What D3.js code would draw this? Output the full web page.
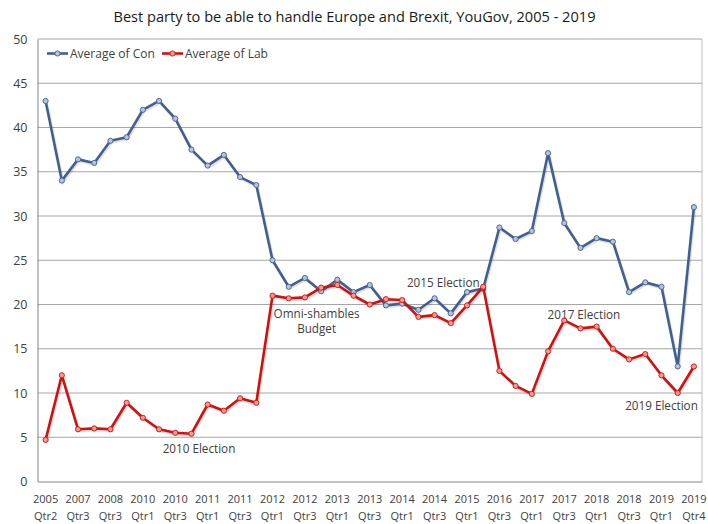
<!DOCTYPE html>
<html>
<head>
<meta charset="utf-8">
<script src="https://cdn.jsdelivr.net/npm/d3@7"></script>
<style>
  body { margin: 0; background: #fff; }
  svg { font-family: "Open Sans", sans-serif; }
</style>
</head>
<body>
<div id="chart"></div>
<script>
const W = 708, H = 524;

// quarters shown on the category axis (only every 2nd is labelled)
const quarters = [
    "2005 Qtr2", "2006 Qtr2", "2007 Qtr3", "2008 Qtr1", "2008 Qtr3", "2009 Qtr2",
    "2010 Qtr1", "2010 Qtr2", "2010 Qtr3", "2010 Qtr4", "2011 Qtr1", "2011 Qtr2",
    "2011 Qtr3", "2011 Qtr4", "2012 Qtr1", "2012 Qtr2", "2012 Qtr3", "2012 Qtr4",
    "2013 Qtr1", "2013 Qtr2", "2013 Qtr3", "2013 Qtr4", "2014 Qtr1", "2014 Qtr2",
    "2014 Qtr3", "2014 Qtr4", "2015 Qtr1", "2015 Qtr2", "2016 Qtr3", "2016 Qtr4",
    "2017 Qtr1", "2017 Qtr2", "2017 Qtr3", "2017 Qtr4", "2018 Qtr1", "2018 Qtr2",
    "2018 Qtr3", "2018 Qtr4", "2019 Qtr1", "2019 Qtr2", "2019 Qtr4"
];
const con = [
    43, 34, 36.4, 36, 38.5, 38.9, 42, 43, 41, 37.5, 35.7, 36.9,
    34.4, 33.5, 25, 22, 23, 21.5, 22.8, 21.4, 22.2, 19.9, 20.1, 19.4,
    20.7, 19, 21.4, 21.8, 28.7, 27.4, 28.3, 37.1, 29.2, 26.4, 27.5, 27.1,
    21.4, 22.5, 22, 13, 31
];
const lab = [
    4.7, 12, 5.9, 6, 5.9, 8.9, 7.2, 5.9, 5.5, 5.4, 8.7, 8,
    9.4, 8.9, 21, 20.7, 20.8, 21.9, 22.2, 21, 20, 20.6, 20.5, 18.6,
    18.8, 17.9, 19.9, 22, 12.5, 10.8, 9.9, 14.7, 18.2, 17.3, 17.5, 15,
    13.8, 14.4, 12, 10, 13
];
const yTicks = [0, 5, 10, 15, 20, 25, 30, 35, 40, 45, 50];
// text labels placed against a quarter and a value
const notes = [
    { q: "2010 Qtr4", v: 3.2, lines: ["2010 Election"], dx: 7.5 },
    { q: "2012 Qtr4", v: 18.5, lines: ["Omni-shambles", "Budget"], dx: -4.5 },
    { q: "2014 Qtr4", v: 22.0, lines: ["2015 Election"], dx: -7.5 },
    { q: "2017 Qtr4", v: 18.4, lines: ["2017 Election"], dx: 3.5 },
    { q: "2019 Qtr1", v: 8.1, lines: ["2019 Election"], dx: 0 }
];

const plotLeft = 37.5, plotRight = 702, plotTop = 39, plotBottom = 481.5;

const svg = d3.select("#chart").append("svg")
    .attr("width", W)
    .attr("height", H);

const x = d3.scalePoint()
    .domain(quarters)
    .range([plotLeft, plotRight])
    .padding(0.5);
const y = d3.scaleLinear()
    .domain([0, 50])
    .range([plotBottom, plotTop]);

// gridlines
svg.append("g")
    .selectAll("line")
    .data(yTicks.filter(d => d > 0))
    .enter()
    .append("line")
    .attr("x1", plotLeft).attr("x2", plotRight)
    .attr("y1", d => y(d)).attr("y2", d => y(d))
    .attr("stroke", "#a6a6a6")
    .attr("stroke-width", 1);

// right border of plot area
svg.append("line")
    .attr("x1", plotRight).attr("x2", plotRight)
    .attr("y1", plotTop).attr("y2", plotBottom)
    .attr("stroke", "#bfbfbf");

// y axis
const yAxis = d3.axisLeft(y).tickValues(yTicks).tickSize(0).tickPadding(10);
const gy = svg.append("g")
    .attr("transform", `translate(${plotLeft},0)`)
    .call(yAxis);
gy.select(".domain").attr("stroke", "#868686");
gy.selectAll("text")
    .attr("font-size", 12.5)
    .attr("font-family", "Open Sans, sans-serif")
    .attr("fill", "#404040");

// x axis
const xAxis = d3.axisBottom(x).tickSize(0).tickFormat("");
const gx = svg.append("g")
    .attr("transform", `translate(0,${plotBottom})`)
    .call(xAxis);
gx.select(".domain").attr("stroke", "#868686");

const labelled = quarters.filter((q, i) => i % 2 === 0);
const xl = svg.append("g")
    .selectAll("text")
    .data(labelled)
    .enter()
    .append("text")
    .attr("text-anchor", "middle")
    .attr("font-size", 11)
    .attr("fill", "#404040")
    .attr("x", d => x(d));
xl.append("tspan")
    .attr("x", d => x(d))
    .attr("y", 503)
    .text(d => d.split(" ")[0]);
xl.append("tspan")
    .attr("x", d => x(d))
    .attr("y", 520)
    .text(d => d.split(" ")[1]);

// series
const series = [
    { name: "Average of Con", values: con, stroke: "#41608f", fill: "#b4c3e0" },
    { name: "Average of Lab", values: lab, stroke: "#d40f0f", fill: "#f39b8d" }
];

const line = d3.line()
    .x((d, i) => x(quarters[i]))
    .y(d => y(d));

series.forEach(s => {
    svg.append("path")
        .datum(s.values)
        .attr("fill", "none")
        .attr("stroke", "rgba(0,0,0,0.12)")
        .attr("stroke-width", 3)
        .attr("transform", "translate(1,1.5)")
        .attr("d", line);
    svg.append("path")
        .datum(s.values)
        .attr("fill", "none")
        .attr("stroke", s.stroke)
        .attr("stroke-width", 2.6)
        .attr("stroke-linejoin", "round")
        .attr("d", line);
    svg.append("g")
        .selectAll("circle")
        .data(s.values)
        .enter()
        .append("circle")
        .attr("cx", (d, i) => x(quarters[i]))
        .attr("cy", d => y(d))
        .attr("r", 2.6)
        .attr("fill", s.fill)
        .attr("stroke", s.stroke)
        .attr("stroke-width", 0.9);
});

// annotations
notes.forEach(n => {
    const t = svg.append("text")
        .attr("text-anchor", "middle")
        .attr("font-size", 11.7)
        .attr("fill", "#404040");
    n.lines.forEach((l, i) => {
        t.append("tspan")
            .attr("x", x(n.q) + n.dx)
            .attr("y", y(n.v) + i * 15.5)
            .text(l);
    });
});

// legend
const legend = svg.append("g").attr("transform", "translate(47,53.5)");
const lx = [0, 115];
series.forEach((s, i) => {
    const g = legend.append("g").attr("transform", `translate(${lx[i]},0)`);
    g.append("line")
        .attr("x1", 0).attr("x2", 21)
        .attr("stroke", s.stroke)
        .attr("stroke-width", 2.6);
    g.append("circle")
        .attr("cx", 10.5).attr("r", 2.6)
        .attr("fill", s.fill)
        .attr("stroke", s.stroke)
        .attr("stroke-width", 0.9);
    g.append("text")
        .attr("x", 23)
        .attr("y", 4.5)
        .attr("font-size", 12)
        .attr("fill", "#404040")
        .text(s.name);
});

// title
svg.append("text")
    .attr("x", 354.5)
    .attr("y", 21.5)
    .attr("text-anchor", "middle")
    .attr("font-size", 14.6)
    .attr("fill", "#1a1a1a")
    .text("Best party to be able to handle Europe and Brexit, YouGov, 2005 - 2019");
</script>
</body>
</html>
